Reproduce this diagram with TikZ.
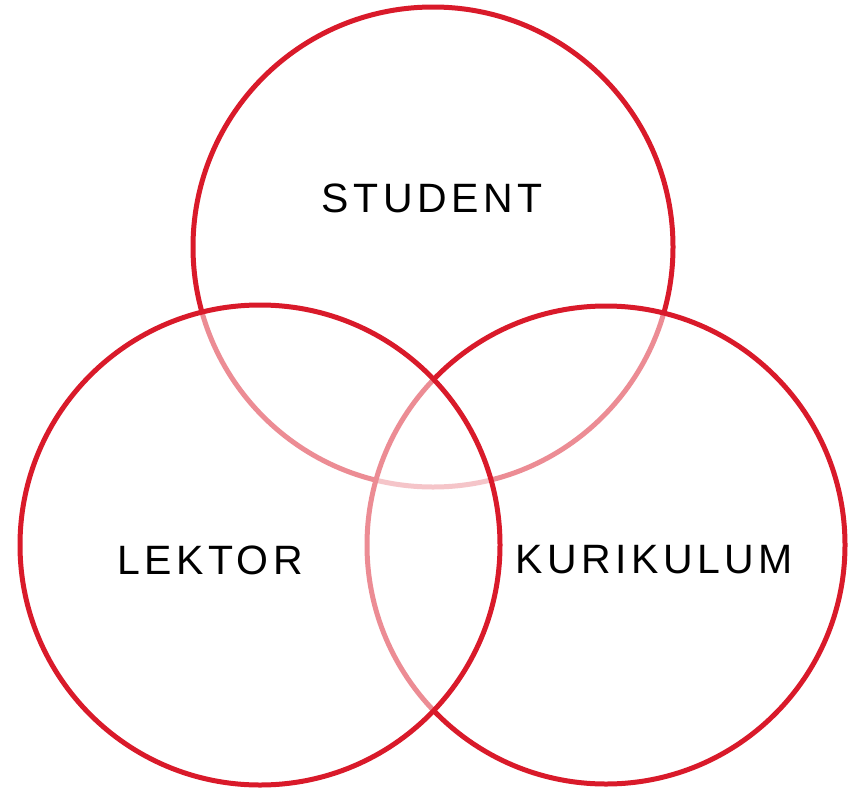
\documentclass[tikz,border=0pt]{standalone}
\usepackage{fontspec}
\setmainfont{Liberation Sans}[LetterSpace=11]
\definecolor{vred}{RGB}{217,26,42}
\begin{document}
\begin{tikzpicture}[x=1pt,y=-1pt,
  ring/.style={draw=vred,line width=5pt,fill=white,fill opacity=0.5},
  lbl/.style={font=\fontsize{41}{48}\selectfont,text=black,inner sep=0pt}]
\useasboundingbox (0,0) rectangle (851,787);
\draw[ring] (433,247) circle (240);
\draw[ring] (606,545) circle (239);
\draw[ring] (260,545) circle (240);
\node[lbl] (student) at (432,198) {STUDENT};
\node[lbl] (lektor) at (210,560) {LEKTOR};
\node[lbl] (kurikulum) at (654,560) {KURIKULUM};
\end{tikzpicture}
\end{document}
